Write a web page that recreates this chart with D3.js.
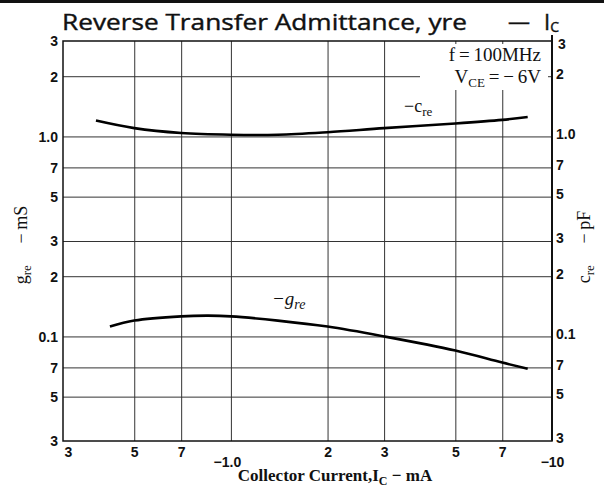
<!DOCTYPE html>
<html>
<head>
<meta charset="utf-8">
<script src="https://cdn.jsdelivr.net/npm/d3@7"></script>
<style>
  body { margin: 0; background: #fff; }
  svg { display: block; }
</style>
</head>
<body>
<script>
// tick values + labels
const xTicks = [0.3, 0.5, 0.7, 1, 2, 3, 5, 7, 10];
const xTickLabels = ["3", "5", "7", "\u22121.0", "2", "3", "5", "7", "\u221210"];
const yTicks = [0.03, 0.05, 0.07, 0.1, 0.2, 0.3, 0.5, 0.7, 1, 2, 3];
const yTickLabels = ["3", "5", "7", "0.1", "2", "3", "5", "7", "1.0", "2", "3"];
const yRightLabels = ["3", "5", "7", "0.1", "2", "3", "5", "7", "1.0", "2", "3"];

// -c_re (pF) vs Ic (mA)
const creCurrent = [0.38, 0.5, 0.7, 1.0, 1.4, 2.0, 3.0, 5.0, 7.0, 8.4];
const creValue = [1.2, 1.1, 1.04, 1.02, 1.02, 1.05, 1.1, 1.16, 1.21, 1.25];

// -g_re (mS) vs Ic (mA)
const greCurrent = [0.42, 0.5, 0.7, 0.85, 1.0, 1.4, 2.0, 3.0, 5.0, 7.0, 8.4];
const greValue = [0.112, 0.12, 0.126, 0.127, 0.126, 0.12, 0.112, 0.1, 0.085, 0.074, 0.069];

const W = 604, H = 495;
const margin = {top: 41, left: 63, right: 52, bottom: 54};

const svg = d3.select("body").append("svg").attr("width", W).attr("height", H);

const x = d3.scaleLog().domain([0.3, 10]).range([margin.left, W - margin.right]);
const y = d3.scaleLog().domain([0.03, 3]).range([H - margin.bottom, margin.top]);

const sans = "'Liberation Sans', Arial, sans-serif";
const serif = "'Liberation Serif', 'Times New Roman', serif";

// top rule
svg.append("rect").attr("x", 0).attr("y", 0).attr("width", W).attr("height", 3).attr("fill", "#111");

// grid
const gridX = svg.append("g")
  .attr("transform", `translate(0,${y.range()[0]})`)
  .call(d3.axisBottom(x).tickValues(xTicks.slice(1, -1)).tickSize(-(y.range()[0] - y.range()[1])).tickFormat(""));
const gridY = svg.append("g")
  .attr("transform", `translate(${x.range()[0]},0)`)
  .call(d3.axisLeft(y).tickValues(yTicks.slice(1, -1)).tickSize(-(x.range()[1] - x.range()[0])).tickFormat(""));
[gridX, gridY].forEach(g => {
  g.select(".domain").remove();
  g.selectAll(".tick line").attr("stroke", "#333").attr("stroke-width", 1);
});

// frame
svg.append("rect")
  .attr("x", x.range()[0]).attr("y", y.range()[1])
  .attr("width", x.range()[1] - x.range()[0])
  .attr("height", y.range()[0] - y.range()[1])
  .attr("fill", "none").attr("stroke", "#111").attr("stroke-width", 1.5);
svg.append("line")
  .attr("x1", x.range()[1]).attr("x2", x.range()[1])
  .attr("y1", y.range()[1] - 6).attr("y2", y.range()[0])
  .attr("stroke", "#111").attr("stroke-width", 2);

// left tick labels
const axL = svg.append("g")
  .attr("transform", `translate(${x.range()[0] - 5},0)`)
  .call(d3.axisLeft(y).tickValues(yTicks).tickSize(0).tickFormat((d, i) => yTickLabels[i]));
axL.select(".domain").remove();
axL.selectAll("text").attr("font-family", sans).attr("font-weight", "bold")
  .attr("font-size", 14).attr("fill", "#111").attr("x", 0).attr("dy", "0.35em");

// right tick labels
const axR = svg.append("g")
  .attr("transform", `translate(${x.range()[1] + 4},-3)`)
  .call(d3.axisRight(y).tickValues(yTicks).tickSize(0).tickFormat((d, i) => yRightLabels[i]));
axR.select(".domain").remove();
axR.selectAll("text").attr("font-family", sans).attr("font-weight", "bold")
  .attr("font-size", 14).attr("fill", "#111")
  .attr("x", (d, i) => i === 10 ? 2 : 0)
  .attr("dy", (d, i) => i === 10 ? "0.75em" : "0.35em");

// bottom tick labels
const axB = svg.append("g")
  .attr("transform", `translate(0,${y.range()[0]})`)
  .call(d3.axisBottom(x).tickValues(xTicks).tickSize(0).tickFormat((d, i) => xTickLabels[i]));
axB.select(".domain").remove();
axB.selectAll("text").attr("font-family", sans).attr("font-weight", "bold")
  .attr("font-size", 14).attr("fill", "#111")
  .attr("y", (d, i) => (i === 3 || i === 8) ? 16 : 6)
  .attr("dx", (d, i) => i === 0 ? 5 : (i === 3 ? -4 : 0));

// curves
const line = d3.line().curve(d3.curveCatmullRom.alpha(0.5));
svg.append("path")
  .datum(creCurrent.map((c, i) => [x(c), y(creValue[i])]))
  .attr("d", line).attr("fill", "none").attr("stroke", "#000").attr("stroke-width", 2.6);
svg.append("path")
  .datum(greCurrent.map((c, i) => [x(c), y(greValue[i])]))
  .attr("d", line).attr("fill", "none").attr("stroke", "#000").attr("stroke-width", 2.6);

// curve labels
const cLab = svg.append("text").attr("x", 404).attr("y", 112)
  .attr("font-family", serif).attr("font-size", 18).attr("fill", "#111");
cLab.append("tspan").text("\u2212c");
cLab.append("tspan").attr("font-size", 13).attr("dy", 4).text("re");

const gLab = svg.append("text").attr("x", 272).attr("y", 305)
  .attr("font-family", serif).attr("font-style", "italic").attr("font-size", 19).attr("fill", "#111");
gLab.append("tspan").text("\u2212g");
gLab.append("tspan").attr("font-size", 14).attr("dy", 4).text("re");

// condition note (white box breaks the grid like the print)
svg.append("rect").attr("x", 420).attr("y", 44).attr("width", 128).attr("height", 46).attr("fill", "#fff");
svg.append("text").attr("x", 541).attr("y", 61).attr("text-anchor", "end")
  .attr("font-family", serif).attr("font-size", 19).attr("fill", "#111")
  .text("f\u2009=\u2009100MHz");
const vce = svg.append("text").attr("x", 541).attr("y", 83).attr("text-anchor", "end")
  .attr("font-family", serif).attr("font-size", 19).attr("fill", "#111");
vce.append("tspan").text("V");
vce.append("tspan").attr("font-size", 13).attr("dy", 4).text("CE");
vce.append("tspan").attr("dy", -4).text("\u2009=\u2009\u2212\u20096V");

// title
const title = svg.append("text").attr("x", 62).attr("y", 30)
  .attr("font-family", "'Open Sans', sans-serif").attr("font-weight", 400)
  .attr("font-size", 22).attr("fill", "#111").attr("stroke", "#111").attr("stroke-width", 0.4);
title.append("tspan").attr("textLength", 405).attr("lengthAdjust", "spacingAndGlyphs")
  .text("Reverse Transfer Admittance, yre");
title.append("tspan").attr("x", 508).attr("dy", -1).text("\u2014");
title.append("tspan").attr("x", 544).attr("dy", 1).text("I");
title.append("tspan").attr("font-size", 14).attr("dy", 2).text("C");

// y labels
const yl = svg.append("text")
  .attr("transform", `translate(27,${(y.range()[0] + y.range()[1]) / 2 + 4}) rotate(-90)`)
  .attr("text-anchor", "middle").attr("font-family", serif).attr("font-size", 18).attr("fill", "#111");
yl.append("tspan").text("g");
yl.append("tspan").attr("font-size", 13).attr("dy", 4).text("re");
yl.append("tspan").attr("dy", -4).text("\u2003\u2009\u2212\u2009mS");

const yr = svg.append("text")
  .attr("transform", `translate(590,${(y.range()[0] + y.range()[1]) / 2 + 6}) rotate(-90)`)
  .attr("text-anchor", "middle").attr("font-family", serif).attr("font-size", 18).attr("fill", "#111");
yr.append("tspan").text("c");
yr.append("tspan").attr("font-size", 13).attr("dy", 4).text("re");
yr.append("tspan").attr("dy", -4).text("\u2003\u2009\u2212\u2009pF");

// x label
const xl = svg.append("text").attr("x", 335).attr("y", 481).attr("text-anchor", "middle")
  .attr("font-family", serif).attr("font-weight", "bold").attr("font-size", 17).attr("fill", "#111");
xl.append("tspan").text("Collector Current,I");
xl.append("tspan").attr("font-size", 12).attr("dy", 4).text("C");
xl.append("tspan").attr("dy", -4).text(" \u2212 mA");
</script>
</body>
</html>
